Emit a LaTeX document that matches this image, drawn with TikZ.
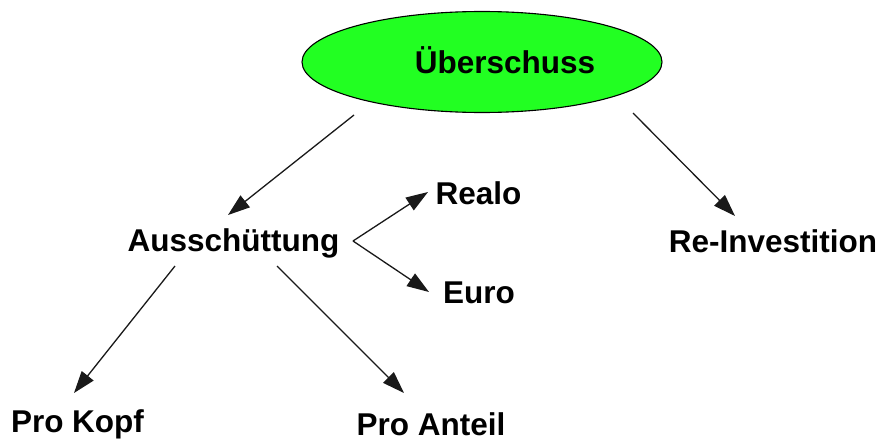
\documentclass[tikz,border=0pt]{standalone}
\usepackage{fontspec}
\setmainfont{Liberation Sans}
\usetikzlibrary{arrows.meta,shapes.geometric}
\definecolor{ovalgreen}{RGB}{34,255,34}
\begin{document}
\begin{tikzpicture}[x=1pt,y=-1pt,
  lbl/.style={font=\fontsize{31.5}{36}\selectfont\bfseries, anchor=base, inner sep=0pt},
  arr/.style={draw=black!90, line width=1.3pt, -{Triangle[length=22pt,width=15pt]}}]
\useasboundingbox (0,0) rectangle (883,439);
\node[ellipse, draw=black, line width=1.1pt, fill=ovalgreen, minimum width=360pt, minimum height=101pt, inner sep=0pt] (oval) at (482,62) {};
\node[lbl] (ueb) at (505,73) {Überschuss};
\node[lbl] (aus) at (233.5,251) {Ausschüttung};
\node[lbl] (realo) at (478.5,204) {Realo};
\node[lbl] (euro) at (479,303) {Euro};
\node[lbl] (reinv) at (773,252) {Re-Investition};
\node[lbl] (kopf) at (77.5,432) {Pro Kopf};
\node[lbl] (anteil) at (431,435) {Pro Anteil};
\coordinate (s1) at (354,115); \coordinate (e1) at (228,215);
\coordinate (s2) at (353,241); \coordinate (e2) at (428,192); \coordinate (e3) at (429,292);
\coordinate (s4) at (175,266); \coordinate (e4) at (74,393);
\coordinate (s5) at (277,266); \coordinate (e5) at (404,393);
\coordinate (s6) at (633,113); \coordinate (e6) at (735,216);
\draw[arr] (s1) -- (e1);
\draw[arr] (s2) -- (e2);
\draw[arr] (s2) -- (e3);
\draw[arr] (s4) -- (e4);
\draw[arr] (s5) -- (e5);
\draw[arr] (s6) -- (e6);
\end{tikzpicture}
\end{document}
